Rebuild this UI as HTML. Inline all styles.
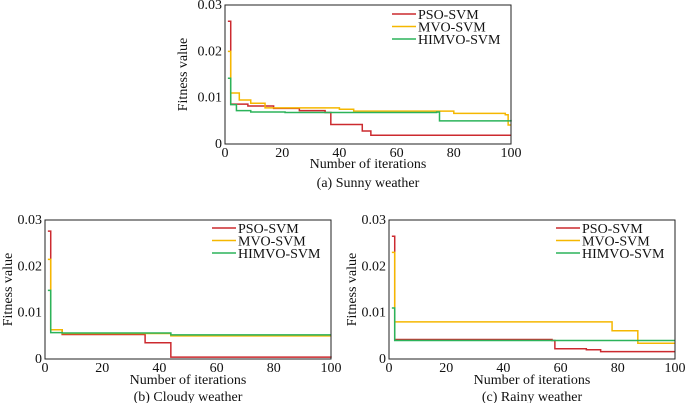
<!DOCTYPE html>
<html><head><meta charset="utf-8"><style>
body{margin:0;background:#fff}
svg{display:block;font-family:"Liberation Serif",serif}
</style></head><body>
<svg id="chart" width="685" height="403" viewBox="0 0 685 403" xmlns="http://www.w3.org/2000/svg"></svg>
<script>
const xTicks=[0,20,40,60,80,100];
const yTicks=[0,0.01,0.02,0.03];
const yTickLabels=["0","0.01","0.02","0.03"];
const seriesNames=["PSO-SVM","MVO-SVM","HIMVO-SVM"];
const colors=["#cc2a2f","#f5b700","#2bb35a"];
// Sunny
const sunnyPsoX=[1,2,8,17,26,35,37,47,48,51,100];
const sunnyPsoY=[0.0265,0.0086,0.0082,0.0077,0.0072,0.0068,0.0042,0.0042,0.0028,0.0019,0.0019];
const sunnyMvoX=[1,2,4,5,9,14,40,45,80,98,99,100];
const sunnyMvoY=[0.02,0.011,0.011,0.0095,0.0088,0.0078,0.0075,0.0071,0.0066,0.0063,0.0041,0.0041];
const sunnyHimX=[1,2,4,9,21,74,75,100];
const sunnyHimY=[0.0142,0.0085,0.0072,0.0069,0.0068,0.0069,0.005,0.0052];
// Cloudy
const cloudyPsoX=[1,2,6,35,44,100];
const cloudyPsoY=[0.0276,0.0063,0.0053,0.0035,0.0004,0.0003];
const cloudyMvoX=[1,2,6,44,100];
const cloudyMvoY=[0.0215,0.0063,0.0055,0.005,0.005];
const cloudyHimX=[1,2,6,44,100];
const cloudyHimY=[0.0148,0.0057,0.0056,0.0052,0.0052];
// Rainy
const rainyPsoX=[1,2,57,58,69,74,100];
const rainyPsoY=[0.0265,0.0042,0.004,0.0022,0.002,0.0016,0.0016];
const rainyMvoX=[1,2,78,87,100];
const rainyMvoY=[0.023,0.008,0.0061,0.0034,0.0034];
const rainyHimX=[1,2,100];
const rainyHimY=[0.011,0.004,0.004];

const NS="http://www.w3.org/2000/svg";
const svg=document.getElementById('chart');
function mk(tag,attrs,parent){const e=document.createElementNS(NS,tag);for(const k in attrs)e.setAttribute(k,attrs[k]);(parent||svg).appendChild(e);return e;}
const FS=14;
const panels=[
 {key:'sunny',x0:225,x1:511,y0:5,y1:144,caption:"(a) Sunny weather",ylx:182,xly:168,capy:187,legX:392,legY:14,
  s:[[sunnyPsoX,sunnyPsoY],[sunnyMvoX,sunnyMvoY],[sunnyHimX,sunnyHimY]]},
 {key:'cloudy',x0:45,x1:331,y0:220,y1:359,caption:"(b) Cloudy weather",ylx:7,xly:384,capy:401,legX:212,legY:228,
  s:[[cloudyPsoX,cloudyPsoY],[cloudyMvoX,cloudyMvoY],[cloudyHimX,cloudyHimY]]},
 {key:'rainy',x0:389,x1:675,y0:220,y1:359,caption:"(c) Rainy weather",ylx:351,xly:384,capy:401,legX:556,legY:228,
  s:[[rainyPsoX,rainyPsoY],[rainyMvoX,rainyMvoY],[rainyHimX,rainyHimY]]}
];

panels.forEach(p=>{
 const g=mk('g',{});
 
 
 const sx=v=>p.x0+(v/100)*(p.x1-p.x0);
 const sy=v=>p.y1-(v/0.03)*(p.y1-p.y0);
 p.s.forEach((sr,i)=>{
  const [xs,ys]=sr;let d='';
  for(let k=0;k<xs.length;k++){
   const X=sx(xs[k]),Y=sy(ys[k]);
   if(k===0)d+='M'+X+' '+Y;else{d+=' L'+X+' '+sy(ys[k-1])+' L'+X+' '+Y;}
  }
  const path=mk('path',{d:d,fill:'none',stroke:colors[i],'stroke-width':1.5},g);
  
  
 });
 const box=mk('rect',{x:p.x0,y:p.y0,width:p.x1-p.x0,height:p.y1-p.y0,fill:'none',stroke:'#222','stroke-width':1},g);
 
 
 xTicks.forEach(t=>{
  const tx=mk('text',{x:sx(t),y:p.y1+13,'text-anchor':'middle','font-size':FS,fill:'#111'},g);
  tx.textContent=t;
  
  
 });
 yTicks.forEach((t,i)=>{
  const ty=mk('text',{x:p.x0-3,y:sy(t)+4,'text-anchor':'end','font-size':FS,fill:'#111'},g);
  ty.textContent=yTickLabels[i];
  
  
 });
 const yl=mk('text',{x:0,y:0,'text-anchor':'middle','font-size':FS,fill:'#111',transform:'translate('+(p.ylx+5)+','+((p.y0+p.y1)/2)+') rotate(-90)'},g);
 yl.textContent='Fitness value';
 
 
 const xl=mk('text',{x:(p.x0+p.x1)/2,y:p.xly,'text-anchor':'middle','font-size':FS,fill:'#111'},g);
 xl.textContent='Number of iterations';
 
 
 const cp=mk('text',{x:(p.x0+p.x1)/2,y:p.capy,'text-anchor':'middle','font-size':FS,fill:'#111'},g);
 cp.textContent=p.caption;
 
 
 seriesNames.forEach((n,i)=>{
  const yy=p.legY+i*12.5;
  const ln=mk('line',{x1:p.legX,x2:p.legX+24,y1:yy,y2:yy,stroke:colors[i],'stroke-width':1.5},g);
  
  
  const lt=mk('text',{x:p.legX+26,y:yy+5,'font-size':FS,fill:'#111'},g);
  lt.textContent=n;
  
  
 });
});
</script>
</body></html>
